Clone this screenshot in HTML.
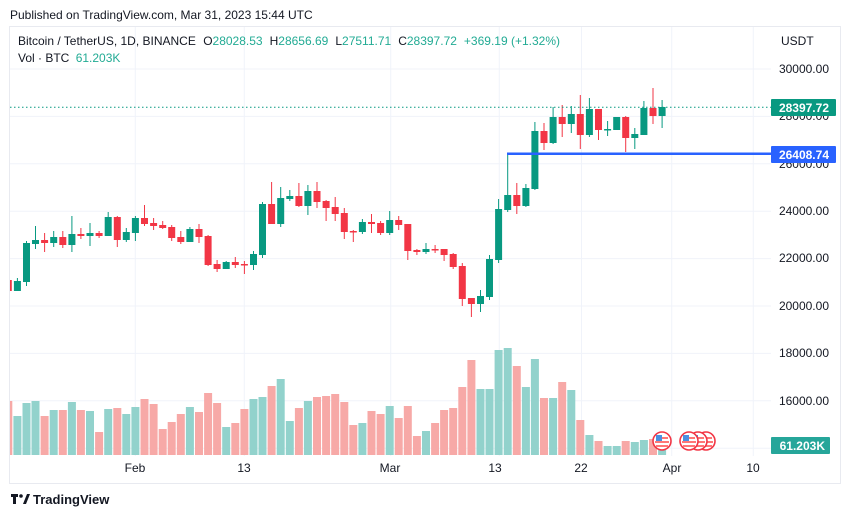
<!DOCTYPE html>
<html><head><meta charset="utf-8"><style>
body{margin:0;background:#fff;width:851px;height:518px;overflow:hidden;font-family:"Liberation Sans",sans-serif}
svg{position:absolute;left:0;top:0}
</style></head><body>
<svg width="851" height="518" xmlns="http://www.w3.org/2000/svg" font-family="Liberation Sans, sans-serif">
<defs><clipPath id="c"><rect x="10" y="27" width="761" height="429"/></clipPath>
<g id="flag"><circle r="9" fill="#fff" stroke="#f23645" stroke-width="1.6"/><rect x="-6" y="-4" width="12" height="2" fill="#f77"/><rect x="-7" y="0" width="14" height="2" fill="#f77"/><rect x="-6" y="4" width="12" height="2" fill="#f77"/><rect x="-6" y="-6" width="6" height="6" fill="#4a8fe0"/></g></defs>
<text x="10" y="19" font-size="12" fill="#131722">Published on TradingView.com, Mar 31, 2023 15:44 UTC</text>
<rect x="9.5" y="26.5" width="831" height="457" fill="none" stroke="#e8eaf0"/>
<g stroke="#f0f3fa" stroke-width="1">
<line x1="10" x2="771" y1="69" y2="69"/><line x1="10" x2="771" y1="116.4" y2="116.4"/><line x1="10" x2="771" y1="163.8" y2="163.8"/><line x1="10" x2="771" y1="211.2" y2="211.2"/><line x1="10" x2="771" y1="258.6" y2="258.6"/><line x1="10" x2="771" y1="306" y2="306"/><line x1="10" x2="771" y1="353.4" y2="353.4"/><line x1="10" x2="771" y1="400.8" y2="400.8"/><line x1="10" x2="771" y1="448.2" y2="448.2"/>
<line x1="135.3" x2="135.3" y1="27" y2="456"/><line x1="244.3" x2="244.3" y1="27" y2="456"/><line x1="390.7" x2="390.7" y1="27" y2="456"/><line x1="499.3" x2="499.3" y1="27" y2="456"/><line x1="581.5" x2="581.5" y1="27" y2="456"/><line x1="671.7" x2="671.7" y1="27" y2="456"/><line x1="753.3" x2="753.3" y1="27" y2="456"/>
</g>
<g clip-path="url(#c)">
<g fill="#92d2cc">
<rect x="13.4" y="416" width="8" height="39"/><rect x="22.5" y="403" width="8" height="52"/><rect x="31.5" y="401" width="8" height="54"/><rect x="49.7" y="410" width="8" height="45"/><rect x="67.9" y="402" width="8" height="53"/><rect x="86" y="411" width="8" height="44"/><rect x="104.2" y="409" width="8" height="46"/><rect x="122.3" y="414" width="8" height="41"/><rect x="131.4" y="407" width="8" height="48"/><rect x="185.9" y="407" width="8" height="48"/><rect x="222.2" y="427" width="8" height="28"/><rect x="249.5" y="399" width="8" height="56"/><rect x="258.5" y="397" width="8" height="58"/><rect x="276.7" y="379" width="8" height="76"/><rect x="285.8" y="421" width="8" height="34"/><rect x="303.9" y="401" width="8" height="54"/><rect x="358.4" y="423" width="8" height="32"/><rect x="385.7" y="406" width="8" height="49"/><rect x="422" y="431" width="8" height="24"/><rect x="476.5" y="389" width="8" height="66"/><rect x="485.5" y="389" width="8" height="66"/><rect x="494.6" y="350" width="8" height="105"/><rect x="503.7" y="348" width="8" height="107"/><rect x="521.9" y="387" width="8" height="68"/><rect x="530.9" y="359" width="8" height="96"/><rect x="549.1" y="398" width="8" height="57"/><rect x="567.3" y="390" width="8" height="65"/><rect x="585.4" y="435" width="8" height="20"/><rect x="603.6" y="446" width="8" height="9"/><rect x="612.7" y="446" width="8" height="9"/><rect x="630.8" y="442" width="8" height="13"/><rect x="639.9" y="440" width="8" height="15"/><rect x="658.1" y="450" width="8" height="5"/>
</g>
<g fill="#f7a9a7">
<rect x="4.3" y="401" width="8" height="54"/><rect x="40.6" y="416" width="8" height="39"/><rect x="58.8" y="410" width="8" height="45"/><rect x="76.9" y="410" width="8" height="45"/><rect x="95.1" y="432" width="8" height="23"/><rect x="113.3" y="408" width="8" height="47"/><rect x="140.5" y="399" width="8" height="56"/><rect x="149.6" y="404" width="8" height="51"/><rect x="158.7" y="429" width="8" height="26"/><rect x="167.7" y="422" width="8" height="33"/><rect x="176.8" y="414" width="8" height="41"/><rect x="195" y="412" width="8" height="43"/><rect x="204.1" y="393" width="8" height="62"/><rect x="213.1" y="403" width="8" height="52"/><rect x="231.3" y="423" width="8" height="32"/><rect x="240.4" y="409" width="8" height="46"/><rect x="267.6" y="386" width="8" height="69"/><rect x="294.9" y="408" width="8" height="47"/><rect x="313" y="397" width="8" height="58"/><rect x="322.1" y="396" width="8" height="59"/><rect x="331.2" y="394" width="8" height="61"/><rect x="340.3" y="402" width="8" height="53"/><rect x="349.3" y="425" width="8" height="30"/><rect x="367.5" y="411" width="8" height="44"/><rect x="376.6" y="414" width="8" height="41"/><rect x="394.7" y="418" width="8" height="37"/><rect x="403.8" y="406" width="8" height="49"/><rect x="412.9" y="436" width="8" height="19"/><rect x="431.1" y="423" width="8" height="32"/><rect x="440.1" y="410" width="8" height="45"/><rect x="449.2" y="408" width="8" height="47"/><rect x="458.3" y="387" width="8" height="68"/><rect x="467.4" y="360" width="8" height="95"/><rect x="512.8" y="366" width="8" height="89"/><rect x="540" y="398" width="8" height="57"/><rect x="558.2" y="382" width="8" height="73"/><rect x="576.3" y="420" width="8" height="35"/><rect x="594.5" y="441" width="8" height="14"/><rect x="621.7" y="441" width="8" height="14"/><rect x="649" y="439" width="8" height="16"/>
</g>
<g fill="#089981">
<rect x="16.9" y="278" width="1" height="13"/><rect x="13.9" y="281" width="7" height="10"/>
<rect x="26" y="241" width="1" height="45"/><rect x="23" y="243" width="7" height="39"/>
<rect x="35" y="226" width="1" height="23"/><rect x="32" y="240" width="7" height="4"/>
<rect x="53.2" y="231" width="1" height="16"/><rect x="50.2" y="237" width="7" height="6"/>
<rect x="71.4" y="216" width="1" height="36"/><rect x="68.4" y="234" width="7" height="11"/>
<rect x="89.5" y="223" width="1" height="23"/><rect x="86.5" y="233" width="7" height="3"/>
<rect x="107.7" y="212" width="1" height="24"/><rect x="104.7" y="217" width="7" height="19"/>
<rect x="125.8" y="228" width="1" height="14"/><rect x="122.8" y="232" width="7" height="8"/>
<rect x="134.9" y="216" width="1" height="25"/><rect x="131.9" y="218" width="7" height="15"/>
<rect x="189.4" y="227" width="1" height="15"/><rect x="186.4" y="229" width="7" height="13"/>
<rect x="225.7" y="261" width="1" height="8"/><rect x="222.7" y="262" width="7" height="7"/>
<rect x="253" y="251" width="1" height="19"/><rect x="250" y="254" width="7" height="11"/>
<rect x="262" y="202" width="1" height="56"/><rect x="259" y="204" width="7" height="51"/>
<rect x="280.2" y="187" width="1" height="40"/><rect x="277.2" y="198" width="7" height="26"/>
<rect x="289.3" y="190" width="1" height="11"/><rect x="286.3" y="196" width="7" height="3"/>
<rect x="307.4" y="185" width="1" height="30"/><rect x="304.4" y="191" width="7" height="15"/>
<rect x="361.9" y="219" width="1" height="15"/><rect x="358.9" y="222" width="7" height="10"/>
<rect x="389.2" y="211" width="1" height="24"/><rect x="386.2" y="220" width="7" height="13"/>
<rect x="425.5" y="243" width="1" height="11"/><rect x="422.5" y="249" width="7" height="3"/>
<rect x="480" y="290" width="1" height="22"/><rect x="477" y="296" width="7" height="8"/>
<rect x="489" y="255" width="1" height="45"/><rect x="486" y="259" width="7" height="38"/>
<rect x="498.1" y="199" width="1" height="64"/><rect x="495.1" y="209" width="7" height="51"/>
<rect x="507.2" y="154" width="1" height="58"/><rect x="504.2" y="195" width="7" height="15"/>
<rect x="525.4" y="184" width="1" height="23"/><rect x="522.4" y="188" width="7" height="18"/>
<rect x="534.4" y="122" width="1" height="68"/><rect x="531.4" y="131" width="7" height="58"/>
<rect x="552.6" y="107" width="1" height="37"/><rect x="549.6" y="117" width="7" height="26"/>
<rect x="570.8" y="106" width="1" height="27"/><rect x="567.8" y="114" width="7" height="10"/>
<rect x="588.9" y="98" width="1" height="39"/><rect x="585.9" y="109" width="7" height="26"/>
<rect x="607.1" y="121" width="1" height="15"/><rect x="604.1" y="129" width="7" height="1.5"/>
<rect x="616.2" y="117" width="1" height="13"/><rect x="613.2" y="117" width="7" height="13"/>
<rect x="634.3" y="128" width="1" height="21"/><rect x="631.3" y="134" width="7" height="4"/>
<rect x="643.4" y="101" width="1" height="34"/><rect x="640.4" y="108" width="7" height="27"/>
<rect x="661.6" y="100" width="1" height="28"/><rect x="658.6" y="107" width="7" height="9"/>
</g>
<g fill="#f23645">
<rect x="7.8" y="279" width="1" height="13"/><rect x="4.8" y="280" width="7" height="11"/>
<rect x="44.1" y="233" width="1" height="19"/><rect x="41.1" y="240" width="7" height="3"/>
<rect x="62.3" y="231" width="1" height="17"/><rect x="59.3" y="237" width="7" height="8"/>
<rect x="80.4" y="228" width="1" height="11"/><rect x="77.4" y="234" width="7" height="2"/>
<rect x="98.6" y="231" width="1" height="7"/><rect x="95.6" y="233" width="7" height="3"/>
<rect x="116.8" y="216" width="1" height="31"/><rect x="113.8" y="217" width="7" height="23"/>
<rect x="144" y="205" width="1" height="21"/><rect x="141" y="218" width="7" height="6"/>
<rect x="153.1" y="218" width="1" height="12"/><rect x="150.1" y="223" width="7" height="3"/>
<rect x="162.2" y="221" width="1" height="8"/><rect x="159.2" y="225" width="7" height="3"/>
<rect x="171.2" y="225" width="1" height="16"/><rect x="168.2" y="227" width="7" height="11"/>
<rect x="180.3" y="231" width="1" height="13"/><rect x="177.3" y="237" width="7" height="5"/>
<rect x="198.5" y="224" width="1" height="19"/><rect x="195.5" y="229" width="7" height="8"/>
<rect x="207.6" y="235" width="1" height="31"/><rect x="204.6" y="236" width="7" height="29"/>
<rect x="216.6" y="260" width="1" height="12"/><rect x="213.6" y="264" width="7" height="5"/>
<rect x="234.8" y="257" width="1" height="11"/><rect x="231.8" y="262" width="7" height="3"/>
<rect x="243.9" y="261" width="1" height="13"/><rect x="240.9" y="264" width="7" height="1.5"/>
<rect x="271.1" y="182" width="1" height="42"/><rect x="268.1" y="204" width="7" height="20"/>
<rect x="298.4" y="183" width="1" height="24"/><rect x="295.4" y="196" width="7" height="10"/>
<rect x="316.5" y="182" width="1" height="26"/><rect x="313.5" y="191" width="7" height="11"/>
<rect x="325.6" y="200" width="1" height="21"/><rect x="322.6" y="201" width="7" height="7"/>
<rect x="334.7" y="197" width="1" height="24"/><rect x="331.7" y="207" width="7" height="7"/>
<rect x="343.8" y="208" width="1" height="31"/><rect x="340.8" y="213" width="7" height="19"/>
<rect x="352.8" y="230" width="1" height="12"/><rect x="349.8" y="231" width="7" height="1.5"/>
<rect x="371" y="214" width="1" height="19"/><rect x="368" y="222" width="7" height="2"/>
<rect x="380.1" y="221" width="1" height="14"/><rect x="377.1" y="223" width="7" height="10"/>
<rect x="398.2" y="216" width="1" height="14"/><rect x="395.2" y="220" width="7" height="5"/>
<rect x="407.3" y="224" width="1" height="36"/><rect x="404.3" y="224" width="7" height="27"/>
<rect x="416.4" y="249" width="1" height="6"/><rect x="413.4" y="250" width="7" height="2"/>
<rect x="434.6" y="245" width="1" height="8"/><rect x="431.6" y="249" width="7" height="1.5"/>
<rect x="443.6" y="249" width="1" height="12"/><rect x="440.6" y="249" width="7" height="6"/>
<rect x="452.7" y="253" width="1" height="16"/><rect x="449.7" y="254" width="7" height="13"/>
<rect x="461.8" y="263" width="1" height="43"/><rect x="458.8" y="266" width="7" height="33"/>
<rect x="470.9" y="298" width="1" height="19"/><rect x="467.9" y="298" width="7" height="6"/>
<rect x="516.3" y="183" width="1" height="31"/><rect x="513.3" y="195" width="7" height="11"/>
<rect x="543.5" y="123" width="1" height="27"/><rect x="540.5" y="131" width="7" height="12"/>
<rect x="561.7" y="105" width="1" height="32"/><rect x="558.7" y="117" width="7" height="7"/>
<rect x="579.8" y="95" width="1" height="54"/><rect x="576.8" y="114" width="7" height="21"/>
<rect x="598" y="109" width="1" height="31"/><rect x="595" y="109" width="7" height="21"/>
<rect x="625.2" y="116" width="1" height="36"/><rect x="622.2" y="117" width="7" height="21"/>
<rect x="652.5" y="88" width="1" height="36"/><rect x="649.5" y="108" width="7" height="8"/>
</g>
</g>
<line x1="10" x2="771" y1="107.3" y2="107.3" stroke="#089981" stroke-width="1" stroke-dasharray="1.5,2.5"/>
<rect x="507" y="152.5" width="264" height="2.5" fill="#2962ff"/>
<use href="#flag" x="662" y="441"/><use href="#flag" x="706" y="441"/><use href="#flag" x="698" y="441"/><use href="#flag" x="689" y="441"/>
<g font-size="12" fill="#131722">
<text x="781" y="45">USDT</text>
<g text-anchor="end">
<text x="829" y="73">30000.00</text><text x="829" y="120">28000.00</text><text x="829" y="168">26000.00</text><text x="829" y="215">24000.00</text><text x="829" y="262">22000.00</text><text x="829" y="310">20000.00</text><text x="829" y="357">18000.00</text><text x="829" y="405">16000.00</text>
</g>
<g text-anchor="middle">
<text x="135" y="472">Feb</text><text x="244" y="472">13</text><text x="390" y="472">Mar</text><text x="495" y="472">13</text><text x="581" y="472">22</text><text x="672" y="472">Apr</text><text x="753" y="472">10</text>
</g>
</g>
<rect x="771" y="99" width="65" height="17" rx="1" fill="#089981"/><text x="829" y="112" text-anchor="end" font-size="12" font-weight="bold" fill="#fff">28397.72</text>
<rect x="771" y="146" width="65" height="17" rx="1" fill="#2962ff"/><text x="829" y="159" text-anchor="end" font-size="12" font-weight="bold" fill="#fff">26408.74</text>
<rect x="771" y="437" width="59" height="17" rx="1" fill="#26a69a"/><text x="825" y="450" text-anchor="end" font-size="12" font-weight="bold" fill="#fff">61.203K</text>
<text x="18" y="45" font-size="12" fill="#131722">Bitcoin / TetherUS, 1D, BINANCE <tspan dx="4">O</tspan><tspan fill="#22ab94">28028.53</tspan><tspan dx="7">H</tspan><tspan fill="#22ab94">28656.69</tspan><tspan dx="7">L</tspan><tspan fill="#22ab94">27511.71</tspan><tspan dx="7">C</tspan><tspan fill="#22ab94">28397.72</tspan><tspan dx="7" fill="#22ab94">+369.19 (+1.32%)</tspan></text>
<text x="18" y="62" font-size="12" fill="#131722">Vol · BTC <tspan dx="3" fill="#22ab94">61.203K</tspan></text>
<g fill="#131722"><rect x="11" y="494" width="7" height="3"/><rect x="13" y="494" width="3" height="10"/><circle cx="21" cy="496" r="1.8"/><path d="M23 504 L27 494 L30 494 L26 504Z"/></g>
<text x="33" y="504" font-size="13" font-weight="bold" fill="#131722">TradingView</text>
</svg>
</body></html>
